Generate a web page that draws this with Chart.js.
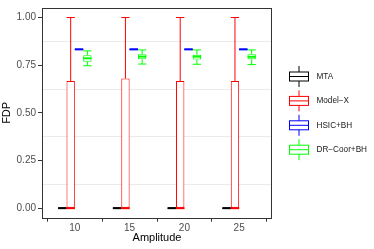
<!DOCTYPE html>
<html><head><meta charset="utf-8">
<script src="https://cdn.jsdelivr.net/npm/chart.js@4/dist/chart.umd.min.js"></script>
<style>html,body{margin:0;padding:0;background:#fff;}#wrap{width:374px;height:249px;}</style>
</head><body><div id="wrap"><canvas id="c" width="374" height="249"></canvas></div>
<script>
const amplitudes = ['10', '15', '20', '25'];
const methods = ['MTA', 'Model\u2212X', 'HSIC+BH', 'DR\u2212Coor+BH'];
const colors = ['#000000', '#FF0000', '#0000FF', '#00FF00'];
const yMajorTicks = [0, 0.25, 0.5, 0.75, 1];
const yTickLabels = ['0.00', '0.25', '0.50', '0.75', '1.00'];
const yMinorTicks = [0.125, 0.375, 0.625, 0.875];

// MTA
const mtaLower  = [0, 0, 0, 0];
const mtaQ1     = [0, 0, 0, 0];
const mtaMedian = [0, 0, 0, 0];
const mtaQ3     = [0, 0, 0, 0];
const mtaUpper  = [0, 0, 0, 0];
// Model-X
const mxLower  = [0, 0, 0, 0];
const mxQ1     = [0, 0, 0, 0];
const mxMedian = [0, 0, 0, 0];
const mxQ3     = [0.667, 0.68, 0.667, 0.667];
const mxUpper  = [1, 1, 1, 1];
// HSIC+BH
const hsLower  = [0.833, 0.833, 0.833, 0.833];
const hsQ1     = [0.833, 0.833, 0.833, 0.833];
const hsMedian = [0.833, 0.833, 0.833, 0.833];
const hsQ3     = [0.833, 0.833, 0.833, 0.833];
const hsUpper  = [0.833, 0.833, 0.833, 0.833];
// DR-Coor+BH
const drLower  = [0.747, 0.756, 0.755, 0.753];
const drQ1     = [0.768, 0.781, 0.780, 0.781];
const drMedian = [0.786, 0.795, 0.795, 0.794];
const drQ3     = [0.802, 0.807, 0.805, 0.807];
const drUpper  = [0.825, 0.830, 0.830, 0.830];

const stats = [
  {lower: mtaLower, q1: mtaQ1, median: mtaMedian, q3: mtaQ3, upper: mtaUpper},
  {lower: mxLower, q1: mxQ1, median: mxMedian, q3: mxQ3, upper: mxUpper},
  {lower: hsLower, q1: hsQ1, median: hsMedian, q3: hsQ3, upper: hsUpper},
  {lower: drLower, q1: drQ1, median: drMedian, q3: drQ3, upper: drUpper}
];

const FONT = 'Liberation Sans, Arial, Helvetica, sans-serif';

const datasets = methods.map((m, i) => ({
  label: m,
  data: amplitudes.map((a, j) => ({x: j + 1, y: [stats[i].q1[j], stats[i].q3[j]]})),
  backgroundColor: '#ffffff',
  borderColor: colors[i],
  borderWidth: 1,
  borderSkipped: false,
  categoryPercentage: 0.61,
  barPercentage: 1
}));

function line(ctx, x1, y1, x2, y2) {
  ctx.beginPath(); ctx.moveTo(x1, y1); ctx.lineTo(x2, y2); ctx.stroke();
}

const boxPlugin = {
  id: 'boxExtras',
  afterDatasetsDraw(chart) {
    const ctx = chart.ctx, ys = chart.scales.y;
    chart.data.datasets.forEach((ds, i) => {
      const meta = chart.getDatasetMeta(i);
      const st = stats[i];
      meta.data.forEach((el, j) => {
        const x = el.x, w = el.width;
        const yLo = ys.getPixelForValue(st.lower[j]);
        const yQ1 = ys.getPixelForValue(st.q1[j]);
        const yMd = ys.getPixelForValue(st.median[j]);
        const yQ3 = ys.getPixelForValue(st.q3[j]);
        const yUp = ys.getPixelForValue(st.upper[j]);
        ctx.save();
        ctx.strokeStyle = colors[i];
        ctx.lineWidth = 1;
        line(ctx, x, yQ3, x, yUp);
        line(ctx, x, yQ1, x, yLo);
        line(ctx, x - w / 2, yUp, x + w / 2, yUp);
        line(ctx, x - w / 2, yLo, x + w / 2, yLo);
        ctx.lineWidth = 2;
        line(ctx, x - w / 2, yMd, x + w / 2, yMd);
        ctx.restore();
      });
    });
  },
  afterDraw(chart) {
    const ctx = chart.ctx, a = chart.chartArea;
    ctx.save();
    ctx.strokeStyle = '#333333';
    ctx.lineWidth = 1;
    ctx.strokeRect(Math.round(a.left) + 0.5, Math.round(a.top) + 0.5,
                   Math.round(a.right - a.left) - 1, Math.round(a.bottom - a.top));
    // legend
    const kx = 289.5, kw = 19, y0 = 76.5, dy = 24.4;
    ctx.font = '8.2px ' + FONT;
    ctx.textBaseline = 'middle';
    ctx.textAlign = 'left';
    methods.forEach((m, i) => {
      const cy = y0 + i * dy;
      ctx.strokeStyle = colors[i];
      ctx.lineWidth = 1;
      line(ctx, kx + kw / 2, cy - 10.5, kx + kw / 2, cy + 10.5);
      ctx.fillStyle = '#ffffff';
      ctx.fillRect(kx, cy - 4.5, kw, 9);
      ctx.strokeRect(kx, cy - 4.5, kw, 9);
      line(ctx, kx, cy, kx + kw, cy);
      ctx.fillStyle = '#1a1a1a';
      ctx.fillText(m, 316.5, cy);
    });
    ctx.restore();
  }
};

const isMinor = v => yMinorTicks.indexOf(v) >= 0;

new Chart(document.getElementById('c'), {
  type: 'bar',
  data: {datasets},
  options: {
    responsive: false,
    animation: false,
    devicePixelRatio: 1,
    layout: {padding: {left: 0, top: 5, right: 102, bottom: 0}},
    plugins: {legend: {display: false}, tooltip: {enabled: false}},
    scales: {
      x: {
        type: 'linear', min: 0.4, max: 4.6, offset: false,
        afterBuildTicks: s => { s.ticks = amplitudes.map((a, j) => ({value: j + 1})); },
        ticks: {
          callback: (v, idx) => amplitudes[idx],
          font: {family: FONT, size: 10}, color: '#4d4d4d',
          padding: 1, maxRotation: 0, autoSkip: false
        },
        grid: {drawOnChartArea: false, drawTicks: true, tickLength: 4, color: '#333333', tickColor: '#333333'},
        border: {display: false},
        title: {display: true, text: 'Amplitude', color: '#000000',
                font: {family: FONT, size: 11}, padding: {top: 0, bottom: 4}},
        afterFit: s => { s.height = 31.3; }
      },
      y: {
        type: 'linear', min: -0.05, max: 1.05,
        afterBuildTicks: s => {
          s.ticks = yMajorTicks.concat(yMinorTicks).sort((p, q) => p - q).map(v => ({value: v}));
        },
        ticks: {
          callback: v => { const k = yMajorTicks.indexOf(v); return k >= 0 ? yTickLabels[k] : ''; },
          font: {family: FONT, size: 10}, color: '#4d4d4d',
          padding: 2, autoSkip: false
        },
        grid: {
          color: c => (c.tick && isMinor(c.tick.value)) ? '#ebebeb' : 'rgba(0,0,0,0)',
          tickColor: c => (c.tick && isMinor(c.tick.value)) ? 'rgba(0,0,0,0)' : '#333333',
          tickLength: 4, lineWidth: 1
        },
        border: {display: false},
        title: {display: true, text: 'FDP', color: '#000000',
                font: {family: FONT, size: 11}, padding: {top: 0.4, bottom: 0}},
        afterFit: s => { s.width = 42; }
      }
    }
  },
  plugins: [boxPlugin]
});
</script></body></html>
